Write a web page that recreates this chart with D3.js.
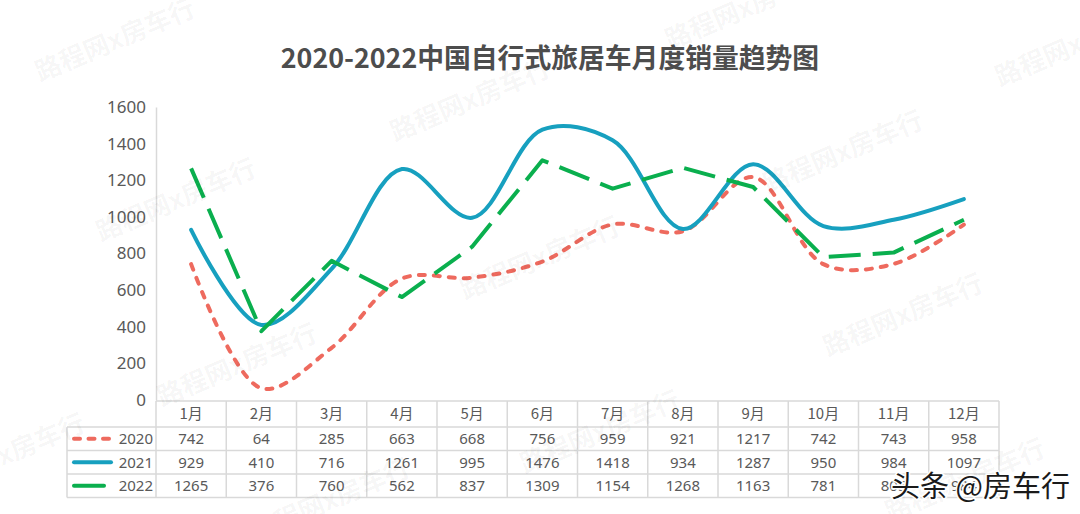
<!DOCTYPE html>
<html>
<head>
<meta charset="utf-8">
<script src="https://cdn.jsdelivr.net/npm/d3@7"></script>
<style>
  html, body { margin: 0; padding: 0; background: #fff; }
  svg { display: block; font-family: "Noto Sans CJK SC", "Noto Sans", sans-serif; }
</style>
</head>
<body>
<div id="chart"></div>
<script>
// monthly sales, 2020-2022
const months = ['1月','2月','3月','4月','5月','6月','7月','8月','9月','10月','11月','12月'];
const years = ['2020','2021','2022'];
const sales2020 = [742, 64, 285, 663, 668, 756, 959, 921, 1217, 742, 743, 958];
const sales2021 = [929, 410, 716, 1261, 995, 1476, 1418, 934, 1287, 950, 984, 1097];
const sales2022 = [1265, 376, 760, 562, 837, 1309, 1154, 1268, 1163, 781, 805, 984];
const yTicks = [0, 200, 400, 600, 800, 1000, 1200, 1400, 1600];

const series = [
  { name: years[0], values: sales2020, color: '#EE6A5E', dash: '6,9', cap: 'round', smooth: true },
  { name: years[1], values: sales2021, color: '#17A0BF', dash: null, cap: 'round', smooth: true },
  { name: years[2], values: sales2022, color: '#0AAF4E', dash: '32,12', cap: 'butt', smooth: false },
];

const width = 1080, height = 514;
const svg = d3.select('#chart').append('svg')
  .attr('width', width).attr('height', height);

// plot area
const plotL = 156, plotR = 999, plotT = 107, plotB = 400;
const rowH = [401, 427, 450.5, 474, 497.5];

const x = d3.scaleBand().domain(months).range([plotL, plotR]);
const y = d3.scaleLinear().domain([0, 1600]).range([plotB, plotT]);
const cx = m => x(m) + x.bandwidth() / 2;

// title
svg.append('text')
  .attr('x', 550).attr('y', 68)
  .attr('text-anchor', 'middle')
  .attr('font-size', 26.8).attr('font-weight', 700)
  .attr('fill', '#4d4d4d')
  .text('2020-2022中国自行式旅居车月度销量趋势图');

// y axis
const yAxis = svg.append('g')
  .attr('transform', `translate(${plotL},0)`)
  .call(d3.axisLeft(y).tickValues(yTicks).tickSize(0).tickPadding(10).tickFormat(d3.format('d')));
yAxis.select('.domain').attr('stroke', '#d9d9d9').attr('stroke-width', 1.5);
yAxis.selectAll('text')
  .attr('font-size', 17).attr('fill', '#595959')
  .attr('font-family', '"Noto Sans", sans-serif');

// lines
series.forEach(s => {
  const line = d3.line()
    .x((d, i) => cx(months[i]))
    .y(d => y(d))
    .curve(s.smooth ? d3.curveCatmullRom.alpha(0.5) : d3.curveLinear);
  svg.append('path')
    .datum(s.values)
    .attr('d', line)
    .attr('fill', 'none')
    .attr('stroke', s.color)
    .attr('stroke-width', 4)
    .attr('stroke-linecap', s.cap)
    .attr('stroke-linejoin', 'round')
    .attr('stroke-dasharray', s.dash);
});

// data table
const grid = svg.append('g')
  .attr('stroke', '#d9d9d9').attr('stroke-width', 1.5).attr('fill', 'none');
// horizontal rules
grid.append('line').attr('x1', plotL).attr('x2', plotR).attr('y1', rowH[0]).attr('y2', rowH[0]);
rowH.slice(1).forEach(yy => {
  grid.append('line').attr('x1', 67).attr('x2', plotR).attr('y1', yy).attr('y2', yy);
});
// vertical rules
months.forEach(m => {
  grid.append('line').attr('x1', x(m)).attr('x2', x(m)).attr('y1', rowH[0]).attr('y2', rowH[4]);
});
grid.append('line').attr('x1', plotR).attr('x2', plotR).attr('y1', rowH[0]).attr('y2', rowH[4]);
grid.append('line').attr('x1', 67).attr('x2', 67).attr('y1', rowH[1]).attr('y2', rowH[4]);

const cell = svg.append('g')
  .attr('font-size', 15).attr('fill', '#595959')
  .attr('text-anchor', 'middle');

months.forEach(m => {
  cell.append('text')
    .attr('x', cx(m)).attr('y', (rowH[0] + rowH[1]) / 2)
    .attr('dy', '0.36em')
    .text(m);
});

series.forEach((s, r) => {
  const ym = (rowH[r + 1] + rowH[r + 2]) / 2;
  s.values.forEach((v, i) => {
    cell.append('text')
      .attr('x', cx(months[i])).attr('y', ym)
      .attr('dy', '0.36em')
      .attr('font-family', '"Noto Sans", sans-serif')
      .text(v);
  });
  // legend key (only the 2020 sample is dashed)
  const dashed = s.dash && s.smooth;
  svg.append('line')
    .attr('x1', 74)
    .attr('x2', s.smooth ? 111 : 104)
    .attr('y1', ym).attr('y2', ym)
    .attr('stroke', s.color).attr('stroke-width', 4)
    .attr('stroke-linecap', 'round')
    .attr('stroke-dasharray', dashed ? '6,8.5' : null);
  svg.append('text')
    .attr('x', 153).attr('y', ym).attr('dy', '0.36em')
    .attr('text-anchor', 'end')
    .attr('font-size', 15).attr('fill', '#595959')
    .attr('font-family', '"Noto Sans", sans-serif')
    .text(s.name);
});

// watermarks
const marks = [[115, 40], [176, 200], [470, 100], [237, 365], [843, 152], [903, 315],
  [540, 258], [600, 432], [745, 8], [1075, 45], [965, 480], [5, 455], [330, 500]];
svg.append('g')
  .attr('font-size', 26).attr('font-weight', 700)
  .attr('fill', '#000').attr('fill-opacity', 0.045)
  .attr('text-anchor', 'middle')
  .selectAll('text')
  .data(marks)
  .join('text')
  .attr('transform', d => `translate(${d[0]},${d[1]}) rotate(-23)`)
  .attr('dy', '0.35em')
  .text('路程网x房车行');

// source badge
svg.append('text')
  .attr('x', 1070).attr('y', 497)
  .attr('text-anchor', 'end')
  .attr('font-size', 29)
  .attr('fill', '#1a1a1a')
  .attr('stroke', '#fff').attr('stroke-width', 3)
  .attr('paint-order', 'stroke')
  .text('头条 @房车行');
</script>
</body>
</html>
